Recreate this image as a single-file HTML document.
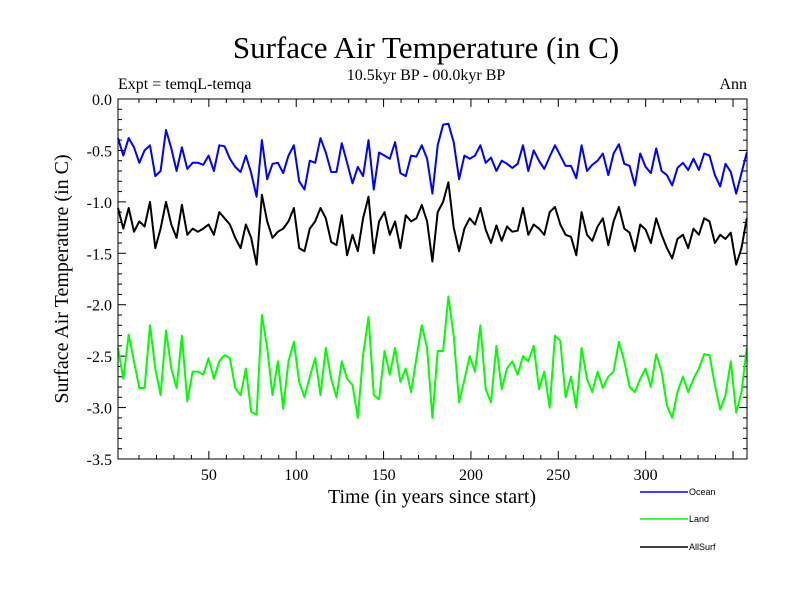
<!DOCTYPE html>
<html><head><meta charset="utf-8"><style>
body{margin:0;background:#fff;}
svg text{font-family:"Liberation Serif",serif;}
</style></head><body>
<svg id="chart" width="800" height="600">
<text x="426" y="58" font-size="31" text-anchor="middle">Surface Air Temperature (in C)</text>
<text x="426" y="80" font-size="16" text-anchor="middle">10.5kyr BP - 00.0kyr BP</text>
<text x="118" y="89" font-size="16">Expt = temqL-temqa</text>
<text x="747" y="89" font-size="16" text-anchor="end">Ann</text>
<text x="0" y="0" font-size="20" text-anchor="middle" transform="translate(68,279) rotate(-90)">Surface Air Temperature (in C)</text>
<text x="432" y="503" font-size="20" text-anchor="middle">Time (in years since start)</text>
<g id="ticks"></g>
<g id="series"></g>
<rect x="118" y="99" width="629" height="360" fill="none" stroke="#000" stroke-width="1"/>
<g>
<g><line x1="640" y1="492" x2="688" y2="492" stroke="#0000ff" stroke-width="1.5"/><text x="689" y="495" font-size="9" style="font-family:'Liberation Sans',sans-serif">Ocean</text></g>
<g><line x1="640" y1="519" x2="688" y2="519" stroke="#00ff00" stroke-width="1.5"/><text x="689" y="522" font-size="9" style="font-family:'Liberation Sans',sans-serif">Land</text></g>
<g><line x1="640" y1="547" x2="688" y2="547" stroke="#000" stroke-width="1.5"/><text x="689" y="550" font-size="9" style="font-family:'Liberation Sans',sans-serif">AllSurf</text></g>
</g>
</svg>
<script>
const ocean=[-0.38,-0.55,-0.38,-0.47,-0.62,-0.50,-0.45,-0.75,-0.70,-0.30,-0.48,-0.70,-0.47,-0.68,-0.62,-0.62,-0.64,-0.55,-0.70,-0.45,-0.46,-0.58,-0.66,-0.71,-0.55,-0.72,-0.95,-0.40,-0.78,-0.63,-0.62,
-0.72,-0.55,-0.45,-0.80,-0.88,-0.60,-0.62,-0.38,-0.52,-0.71,-0.71,-0.43,-0.62,-0.82,-0.66,-0.75,-0.40,-0.88,-0.52,-0.55,-0.58,-0.42,-0.72,-0.75,-0.55,-0.56,-0.45,-0.58,-0.92,-0.45,
-0.25,-0.24,-0.42,-0.78,-0.55,-0.58,-0.55,-0.45,-0.62,-0.57,-0.70,-0.60,-0.63,-0.67,-0.63,-0.45,-0.70,-0.50,-0.60,-0.68,-0.56,-0.45,-0.55,-0.65,-0.65,-0.77,-0.45,-0.70,-0.64,-0.60,
-0.53,-0.74,-0.53,-0.44,-0.63,-0.65,-0.84,-0.53,-0.66,-0.72,-0.48,-0.70,-0.74,-0.84,-0.67,-0.62,-0.69,-0.58,-0.69,-0.53,-0.55,-0.74,-0.85,-0.63,-0.71,-0.92,-0.72,-0.52];
const land=[-2.42,-2.72,-2.29,-2.55,-2.81,-2.81,-2.20,-2.62,-2.88,-2.25,-2.62,-2.81,-2.30,-2.94,-2.65,-2.65,-2.68,-2.52,-2.72,-2.55,-2.49,-2.52,-2.81,-2.88,-2.62,-3.04,-3.07,-2.10,-2.42,-2.88,-2.55,
-3.01,-2.55,-2.36,-2.75,-2.90,-2.70,-2.52,-2.88,-2.42,-2.72,-2.90,-2.55,-2.72,-2.78,-3.10,-2.49,-2.12,-2.88,-2.92,-2.45,-2.68,-2.42,-2.75,-2.62,-2.85,-2.52,-2.20,-2.42,-3.10,-2.45,
-2.45,-1.92,-2.30,-2.95,-2.73,-2.50,-2.65,-2.20,-2.82,-2.95,-2.40,-2.82,-2.62,-2.55,-2.68,-2.50,-2.55,-2.40,-2.82,-2.65,-3.00,-2.30,-2.35,-2.90,-2.70,-3.00,-2.42,-2.72,-2.85,-2.65,
-2.81,-2.70,-2.65,-2.36,-2.55,-2.80,-2.85,-2.72,-2.62,-2.80,-2.48,-2.65,-2.98,-3.10,-2.85,-2.70,-2.85,-2.72,-2.62,-2.48,-2.49,-2.78,-3.02,-2.88,-2.55,-3.05,-2.85,-2.42];
const allsurf=[-1.06,-1.26,-1.06,-1.29,-1.19,-1.24,-1.00,-1.45,-1.26,-1.00,-1.22,-1.35,-1.03,-1.32,-1.26,-1.29,-1.26,-1.22,-1.32,-1.10,-1.16,-1.22,-1.35,-1.45,-1.22,-1.35,-1.61,-0.93,-1.19,-1.35,-1.29,
-1.26,-1.19,-1.06,-1.45,-1.48,-1.26,-1.19,-1.06,-1.16,-1.39,-1.42,-1.13,-1.52,-1.32,-1.48,-1.16,-0.95,-1.50,-1.19,-1.10,-1.32,-1.19,-1.45,-1.13,-1.19,-1.16,-1.03,-1.19,-1.58,-1.10,
-1.00,-0.81,-1.25,-1.48,-1.26,-1.16,-1.22,-1.06,-1.27,-1.40,-1.23,-1.38,-1.24,-1.29,-1.28,-1.06,-1.32,-1.22,-1.26,-1.32,-1.10,-1.05,-1.22,-1.32,-1.34,-1.52,-1.10,-1.32,-1.38,-1.24,
-1.16,-1.42,-1.19,-1.05,-1.26,-1.30,-1.48,-1.22,-1.27,-1.40,-1.16,-1.32,-1.45,-1.55,-1.36,-1.32,-1.45,-1.26,-1.32,-1.16,-1.19,-1.40,-1.32,-1.36,-1.30,-1.61,-1.45,-1.16];
const xTickLabels=[50,100,150,200,250,300];
const yTickLabels=["0.0","-0.5","-1.0","-1.5","-2.0","-2.5","-3.0","-3.5"];
const years=ocean.map((_,i)=>-2+i*3.05);
const X0=118,X1=747,Y0=99,Y1=459,T0=-2,T1=358;
const sx=t=>X0+(t-T0)/(T1-T0)*(X1-X0);
const sy=v=>Y0+(0-v)/3.5*(Y1-Y0);
const NS="http://www.w3.org/2000/svg";
const tg=document.getElementById('ticks');
function ln(x1,y1,x2,y2){const l=document.createElementNS(NS,'line');l.setAttribute('x1',x1);l.setAttribute('y1',y1);l.setAttribute('x2',x2);l.setAttribute('y2',y2);l.setAttribute('stroke','#000');tg.appendChild(l);return l;}
for(let t=10;t<=350;t+=10){const x=sx(t),L=t%50===0?8:4;
const a=ln(x,Y1,x,Y1-L);


const b=ln(x,Y0,x,Y0+L);

}
xTickLabels.forEach(t=>{const e=document.createElementNS(NS,'text');e.setAttribute('x',sx(t));e.setAttribute('y',Y1+21);e.setAttribute('font-size','16');e.setAttribute('text-anchor','middle');e.textContent=t;


tg.appendChild(e);});
for(let k=0;k<=35;k++){const v=-k/10,y=sy(v),L=k%5===0?8:4;
const a=ln(X0,y,X0+L,y);


const b=ln(X1,y,X1-L,y);

}
yTickLabels.forEach(s=>{const e=document.createElementNS(NS,'text');e.setAttribute('x',X0-6);e.setAttribute('y',sy(parseFloat(s))+6);e.setAttribute('font-size','16');e.setAttribute('text-anchor','end');e.textContent=s;


tg.appendChild(e);});
const sg=document.getElementById('series');
[[ocean,'#0000ff','ocean-line'],[allsurf,'#000000','allsurf-line'],[land,'#00ff00','land-line']].forEach(([d,c,n])=>{
const p=document.createElementNS(NS,'polyline');
p.setAttribute('points',d.map((v,i)=>sx(years[i]).toFixed(1)+','+sy(v).toFixed(1)).join(' '));
p.setAttribute('fill','none');p.setAttribute('stroke',c);p.setAttribute('stroke-width','2');p.setAttribute('stroke-linejoin','round');


sg.appendChild(p);});
</script>
</body></html>
